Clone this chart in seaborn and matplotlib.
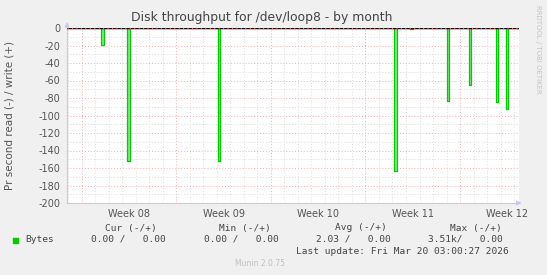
import matplotlib
matplotlib.use("Agg")
import matplotlib.pyplot as plt
import seaborn as sns
import numpy as np
import pandas as pd

# ---- data ----
title = "Disk throughput for /dev/loop8 - by month"
ylabel = "Pr second read (-) / write (+)"
week_labels = ["Week 08", "Week 09", "Week 10", "Week 11", "Week 12"]
week_starts = [0, 7, 14, 21, 28]            # days since Mon Feb 16 2026
spike_days = [1.41, 3.33, 10.05, 23.13, 24.30, 27.01, 28.64, 30.64, 31.39]
spike_values = [-19, -152, -152, -163, -1, -83, -65, -85, -92]
y_ticks = [0, -20, -40, -60, -80, -100, -120, -140, -160, -180, -200]
legend_name = "Bytes"
cur_vals = ["0.00 /   0.00"]
min_vals = ["0.00 /   0.00"]
avg_vals = ["2.03 /   0.00"]
max_vals = ["3.51k/   0.00"]
last_update = "Last update: Fri Mar 20 03:00:27 2026"
munin_ver = "Munin 2.0.75"

# ---- build the series (baseline 0, each sample ~0.2 day wide) ----
w = 0.2
xs, ys = [-1.11], [0]
for d, v in zip(spike_days, spike_values):
    xs += [d, d, d + w, d + w]
    ys += [0, v, v, 0]
xs.append(32.37)
ys.append(0)
df = pd.DataFrame({"day": xs, "val": ys})

sns.set_style("white")
plt.rcParams["font.family"] = ["DejaVu Sans"]

W, H = 547, 275
fig = plt.figure(figsize=(W / 100, H / 100), dpi=100)
fig.patch.set_facecolor("#f0f0f0")
L, R, T, B = 67, 519, 28, 203
ax = fig.add_axes([L / W, (H - B) / H, (R - L) / W, (B - T) / H])
ax.set_facecolor("white")

ax.set_xlim(-1.11, 32.37)
ax.set_ylim(-200, 0)

# grids
for d in np.arange(-1, 33, 1):
    if d in week_starts:
        continue
    ax.axvline(d, color="#dcdcdc", lw=0.7, ls=(0, (1, 2)), zorder=0)
for yv in np.arange(-190, 0, 20):
    ax.axhline(yv, color="#dcdcdc", lw=0.7, ls=(0, (1, 2)), zorder=0)
for d in week_starts:
    ax.axvline(d, color="#f0b0b0", lw=0.7, ls=(0, (1, 2)), zorder=0)
for yv in y_ticks[1:-1]:
    ax.axhline(yv, color="#f0b0b0", lw=0.7, ls=(0, (1, 2)), zorder=0)

# data
ax.fill_between(df["day"], df["val"], 0, color="#88e488", lw=0, zorder=2)
sns.lineplot(data=df, x="day", y="val", sort=False, estimator=None,
             color="#00cc00", lw=0.9, ax=ax, zorder=3)
ax.axhline(0, color="black", lw=1.0, zorder=4)
ax.axhline(0, color="#ee6666", lw=0.8, ls=(0, (1, 3)), zorder=5)

# axes styling
for s in ["top", "right"]:
    ax.spines[s].set_visible(False)
for s in ["left", "bottom"]:
    ax.spines[s].set_color("#c8c8e8")
    ax.spines[s].set_linewidth(0.8)
ax.annotate("", xy=(0, 1.05), xytext=(0, 0.99), xycoords="axes fraction",
            arrowprops=dict(arrowstyle="-|>", color="#c8c8f0", lw=0.8,
                            mutation_scale=7), annotation_clip=False)
ax.annotate("", xy=(1.012, 0), xytext=(0.99, 0), xycoords="axes fraction",
            arrowprops=dict(arrowstyle="-|>", color="#c8c8f0", lw=0.8,
                            mutation_scale=7), annotation_clip=False)

ax.set_yticks(y_ticks)
ax.set_yticklabels([str(v) for v in y_ticks])
ax.set_xticks(week_starts)
ax.set_xticklabels([])
ax.tick_params(axis="y", length=2, color="#c8c8e8", labelsize=7,
               labelcolor="#555555", pad=3)
ax.tick_params(axis="x", length=3, color="#ee8888", width=0.8)
for d, lab in zip(week_starts, week_labels):
    ax.text(d + 3.5, -0.035, lab, transform=ax.get_xaxis_transform(),
            ha="center", va="top", fontsize=7, color="#555555")
ax.set_xlabel("")
ax.set_ylabel("")

fig.text(10 / W, 1 - 115 / H, ylabel, rotation=90, ha="center", va="center",
         fontsize=7.5, color="#555555")
fig.text(262 / W, 1 - 18 / H, title, ha="center", va="center",
         fontsize=8.9, color="#444444")
fig.text(538 / W, 1 - 5 / H, "RRDTOOL / TOBI OETIKER", rotation=270,
         ha="center", va="top", fontsize=5, color="#c4c4c4")

mono = dict(family="DejaVu Sans Mono", fontsize=6.8, color="#444444")
hy = 1 - 228 / H
ry = 1 - 239.5 / H
fig.text(157 / W, hy, "Cur (-/+)", ha="right", va="center", **mono)
fig.text(271 / W, hy, "Min (-/+)", ha="right", va="center", **mono)
fig.text(387 / W, hy, "Avg (-/+)", ha="right", va="center", **mono)
fig.text(502 / W, hy, "Max (-/+)", ha="right", va="center", **mono)
fig.patches.append(plt.Rectangle((13 / W, 1 - 242.5 / H), 5 / W, 5 / H,
                                 transform=fig.transFigure, color="#00cc00"))
fig.text(25 / W, ry, legend_name, ha="left", va="center", **mono)
fig.text(166 / W, ry, cur_vals[0], ha="right", va="center", **mono)
fig.text(279 / W, ry, min_vals[0], ha="right", va="center", **mono)
fig.text(391 / W, ry, avg_vals[0], ha="right", va="center", **mono)
fig.text(503 / W, ry, max_vals[0], ha="right", va="center", **mono)
fig.text(509 / W, 1 - 251 / H, last_update, ha="right", va="center", **mono)
fig.text(260 / W, 1 - 264 / H, munin_ver, ha="center", va="center",
         fontsize=5.5, color="#c0c0c0")

fig.savefig("out.png", dpi=100, facecolor=fig.get_facecolor())
